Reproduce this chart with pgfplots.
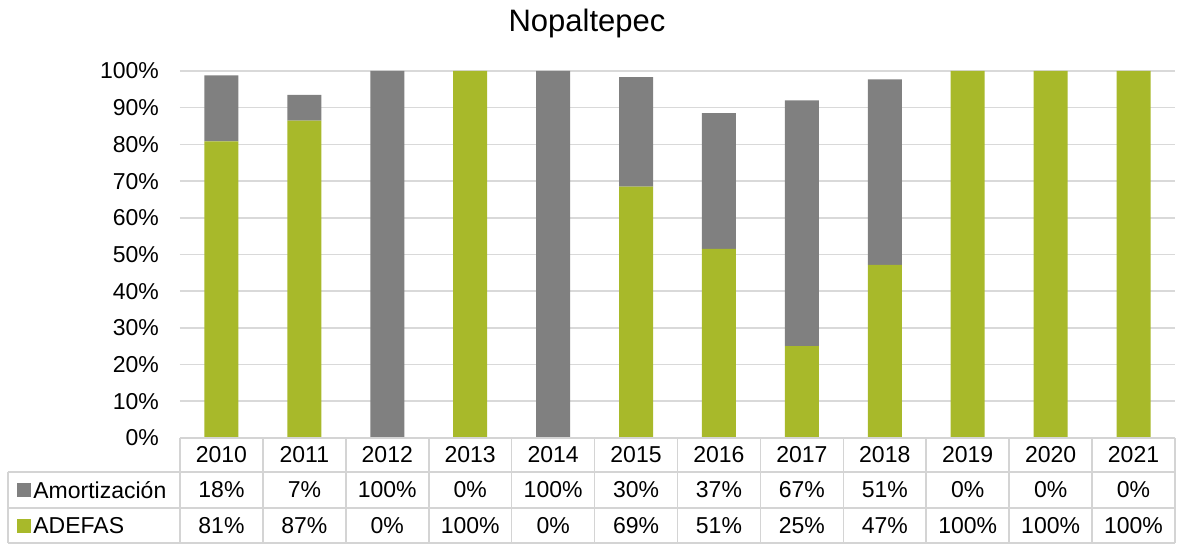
\documentclass[border=0pt]{standalone}
\usepackage{pgfplots}
\pgfplotsset{compat=1.18}
\usepackage{fontspec}
\setmainfont{Liberation Sans}
\definecolor{amort}{HTML}{808080}
\definecolor{adefas}{HTML}{A8B92A}
\definecolor{gridc}{HTML}{D9D9D9}
\definecolor{tabc}{HTML}{D4D4D4}
\newcommand{\lbl}{\fontsize{11.5}{13}\selectfont}
\begin{document}
\begin{tikzpicture}
\begin{axis}[
  scale only axis,
  width=497.5pt, height=183.5pt,
  xmin=-0.5, xmax=11.5, ymin=0, ymax=100,
  ybar stacked, bar width=17pt,
  xtick=\empty,
  ytick={0,10,...,100},
  yticklabels={0\%,10\%,20\%,30\%,40\%,50\%,60\%,70\%,80\%,90\%,100\%},
  yticklabel style={font=\lbl, xshift=-7pt},
  major tick length=0pt,
  axis line style={draw=none},
  ymajorgrids, grid style={gridc, line width=0.8pt},
  clip=false,
]
\addplot[fill=adefas, draw=none] coordinates {
  (0,80.8) (1,86.5) (2,0) (3,100) (4,0) (5,68.5) (6,51.5) (7,25) (8,47.2) (9,100) (10,100) (11,100)};
\addplot[fill=amort, draw=none] coordinates {
  (0,18) (1,7) (2,100) (3,0) (4,100) (5,29.8) (6,37) (7,67) (8,50.5) (9,0) (10,0) (11,0)};
\end{axis}
% data table below the plot
\def\cw{41.4583}
\draw[tabc, line width=0.8pt] (0,0) -- (497.5pt,0);
\draw[tabc, line width=0.8pt] (-86pt,-17pt) -- (497.5pt,-17pt);
\draw[tabc, line width=0.8pt] (-86pt,-35pt) -- (497.5pt,-35pt);
\draw[tabc, line width=0.8pt] (-86pt,-52.6pt) -- (497.5pt,-52.6pt);
\draw[tabc, line width=0.8pt] (-86pt,-17pt) -- (-86pt,-52.6pt);
\foreach \k in {0,...,12} {
  \draw[tabc, line width=0.8pt] (\k*\cw pt,0) -- (\k*\cw pt,-52.6pt);
}
\foreach \y [count=\i from 0] in {2010,2011,2012,2013,2014,2015,2016,2017,2018,2019,2020,2021} {
  \node[font=\lbl] at ({(\i+0.5)*\cw pt},-8.5pt) {\y};
}
\foreach \v [count=\i from 0] in {18,7,100,0,100,30,37,67,51,0,0,0} {
  \node[font=\lbl] at ({(\i+0.5)*\cw pt},-26pt) {\v\%};
}
\foreach \v [count=\i from 0] in {81,87,0,100,0,69,51,25,47,100,100,100} {
  \node[font=\lbl] at ({(\i+0.5)*\cw pt},-44pt) {\v\%};
}
\fill[amort] (-81.5pt,-29.5pt) rectangle (-74.5pt,-22.5pt);
\fill[adefas] (-81.5pt,-47.5pt) rectangle (-74.5pt,-40.5pt);
\node[font=\lbl, anchor=west, inner sep=0pt] at (-73.5pt,-26pt) {Amortización};
\node[font=\lbl, anchor=west, inner sep=0pt] at (-73.5pt,-44pt) {ADEFAS};
\node[font=\fontsize{15.5}{18}\selectfont, anchor=base] at (203.5pt,203pt) {Nopaltepec};
\pgfresetboundingbox
\path (-90pt,-53pt) rectangle (500pt,219pt);
\end{tikzpicture}
\end{document}
